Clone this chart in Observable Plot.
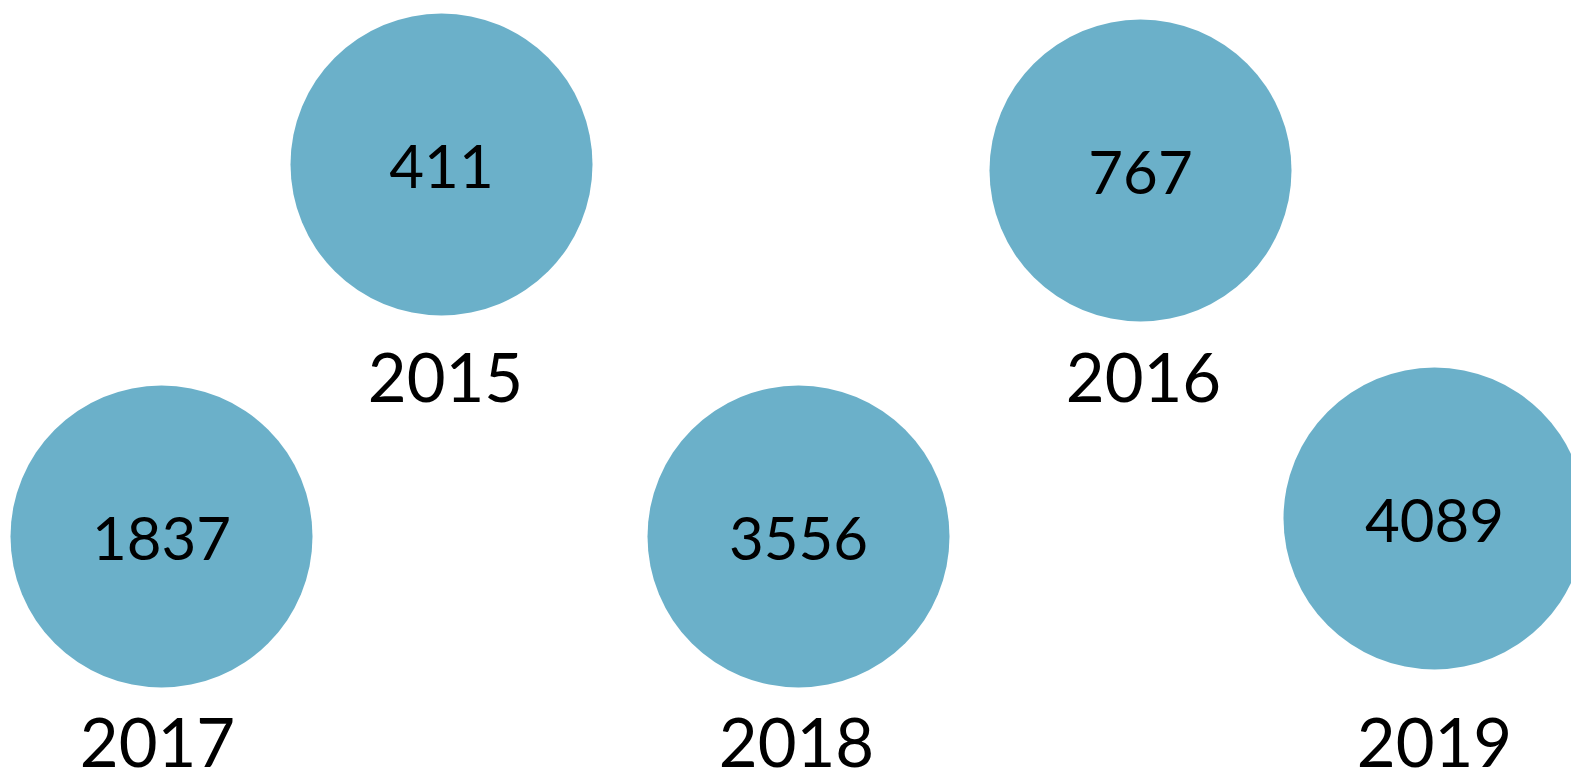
<!DOCTYPE html>
<html>
<head>
<meta charset="utf-8">
<script src="https://cdn.jsdelivr.net/npm/d3@7"></script>
<script src="https://cdn.jsdelivr.net/npm/@observablehq/plot@0.6"></script>
<style>
  html, body { margin: 0; padding: 0; background: #fff; }
  #chart svg { display: block; }
</style>
</head>
<body>
<div id="chart"></div>
<script>
// Data
const years = ["2015", "2016", "2017", "2018", "2019"];
const counts = [411, 767, 1837, 3556, 4089];
// Bubble layout coordinates (layout units)
const bubbleX = [441, 1140, 161, 798, 1434];
const bubbleY = [164, 170, 536, 536, 518];
const labelX = [445, 1143, 157, 796, 1434];
const labelY = [380, 380, 745, 745, 745];

const rows = years.map((y, i) => ({
  year: y, count: counts[i],
  bx: bubbleX[i], by: bubbleY[i],
  lx: labelX[i], ly: labelY[i]
}));

const W = 1571, H = 771;
const chart = Plot.plot({
  width: W,
  height: H,
  margin: 0,
  style: { fontFamily: "Lato, 'Noto Sans', sans-serif", background: "#fff" },
  x: { domain: [0, W], range: [0, W], axis: null },
  y: { domain: [0, H], range: [0, H], axis: null },
  marks: [
    Plot.dot(rows, { x: "bx", y: "by", r: 151, fill: "#6bb0c9", stroke: "none" }),
    Plot.text(rows, { x: "bx", y: "by", text: d => String(d.count), fontSize: 60, fill: "#000", dy: 4 }),
    Plot.text(rows, { x: "lx", y: "ly", text: "year", fontSize: 67, fill: "#000" })
  ]
});
document.getElementById("chart").appendChild(chart);
</script>
</body>
</html>
